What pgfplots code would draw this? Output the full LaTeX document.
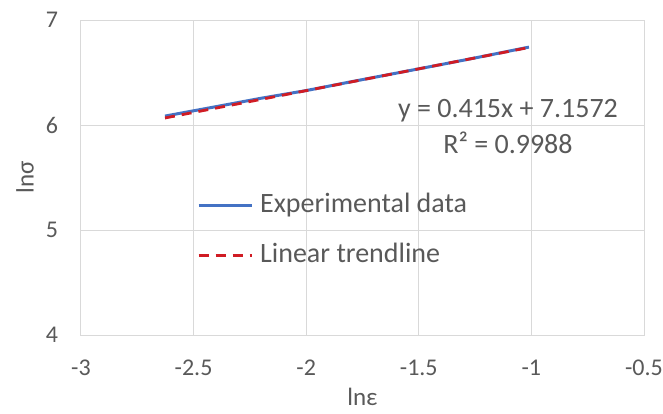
\documentclass[border=0pt]{standalone}
\usepackage{fontspec}
\setmainfont{Carlito}
\usepackage{pgfplots}
\pgfplotsset{compat=1.18}

\definecolor{txt}{HTML}{595959}
\definecolor{grd}{HTML}{D9D9D9}
\definecolor{blu}{HTML}{4472C4}
\definecolor{rd}{HTML}{D01C24}

\begin{document}
\begin{tikzpicture}
\begin{axis}[
    scale only axis,
    width=563pt, height=315pt,
    xmin=-3, xmax=-0.5,
    ymin=4, ymax=7,
    xtick={-3,-2.5,-2,-1.5,-1,-0.5},
    ytick={4,5,6,7},
    grid=major,
    major grid style={grd, line width=1pt},
    axis line style={grd, line width=1pt},
    tick style={draw=none},
    /pgf/number format/assume math mode=true,
    ticklabel style={font=\fontsize{24}{28}\selectfont, text=txt},
    xticklabel style={anchor=center, yshift=-33pt},
    yticklabel style={anchor=center, xshift=-29pt},
    xlabel={lnε},
    ylabel={lnσ},
    label style={font=\fontsize{25}{29}\selectfont, text=txt},
    xlabel style={at={(axis description cs:0.5,-0.196)}, anchor=center},
    ylabel style={at={(axis description cs:-0.0995,0.5)}, anchor=center},
    legend style={
        at={(axis cs:-2.485,5.36)}, anchor=north west,
        draw=none, fill=none, inner sep=0pt,
        font=\fontsize{28}{34}\selectfont, text=txt,
        row sep=24pt, column sep=7pt,
        nodes={inner sep=0pt, text height=20pt, text depth=6pt},
    },
    legend cell align=left,
    legend image code/.code={\draw[#1] (0pt,0pt) -- (53pt,0pt);},
]
% experimental data
\addplot[blu, line width=3pt, line join=round] coordinates {
(-2.627,6.085) (-2.40,6.175) (-2.20,6.255) (-2.00,6.328) (-1.80,6.412)
(-1.60,6.494) (-1.40,6.576) (-1.20,6.660) (-1.011,6.742)
};
\addlegendentry{Experimental data}

% linear trendline y = 0.415x + 7.1572
\addplot[rd, line width=2.8pt, dash pattern=on 10pt off 7pt] coordinates {
(-2.627,6.067) (-1.011,6.738)
};
\addlegendentry{Linear trendline}

\node[anchor=base, font=\fontsize{28}{34}\selectfont, text=txt] at (axis cs:-1.104,6.076) {y = 0.415x + 7.1572};
\node[anchor=base, font=\fontsize{28}{34}\selectfont, text=txt] at (axis cs:-1.104,5.733) {R² = 0.9988};
\end{axis}
\pgfresetboundingbox
\path[use as bounding box] (-81pt,-78pt) rectangle (582pt,335pt);
\end{tikzpicture}
\end{document}
